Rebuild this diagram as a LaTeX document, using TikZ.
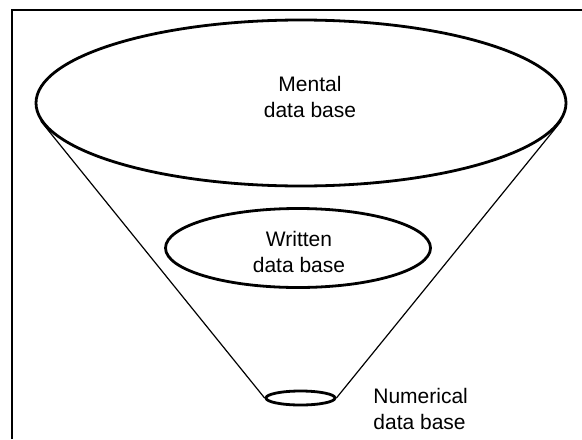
\documentclass[tikz,border=0pt]{standalone}
\usepackage{fontspec}
\setmainfont{Liberation Sans}
\usetikzlibrary{ % tikz packages
    shapes.geometric
}
\tikzset{dbase/.style={
    ellipse, draw,
    line width=1.4pt,
    inner sep=0pt
}}
\tikzset{dblabel/.style={
    inner sep=0pt,
    font=\fontsize{10.5}{13}\selectfont
}}
\tikzset{funnel/.style={line width=0.6pt}}

\begin{document}
\begin{tikzpicture}[x=0.5pt,y=-0.5pt]
        \useasboundingbox (0,0) rectangle (582,439);
        \draw[line width=1.3pt] (12,439) -- (12,10) -- (582,10);

        \node[dbase, minimum width=265pt, minimum height=83pt] (mental) at (301,103) {};
        \node[dbase, minimum width=132.5pt, minimum height=39.5pt] (written) at (298,248) {};
        \node[dbase, minimum width=34.5pt, minimum height=7pt] (numerical) at (300.5,398) {};

        \node[dblabel, align=center] (mentalText) at (310,97) {Mental\\data base};
        \node[dblabel, align=center] (writtenText) at (299,252) {Written\\data base};
        \node[dblabel, align=left, anchor=north west] (numericalText) at (373,388) {Numerical\\data base};

        \path[funnel]
            (mental.184.5)
                edge (numerical.west)
            (mental.-4.5)
                edge (numerical.east);
    \end{tikzpicture}
\end{document}
